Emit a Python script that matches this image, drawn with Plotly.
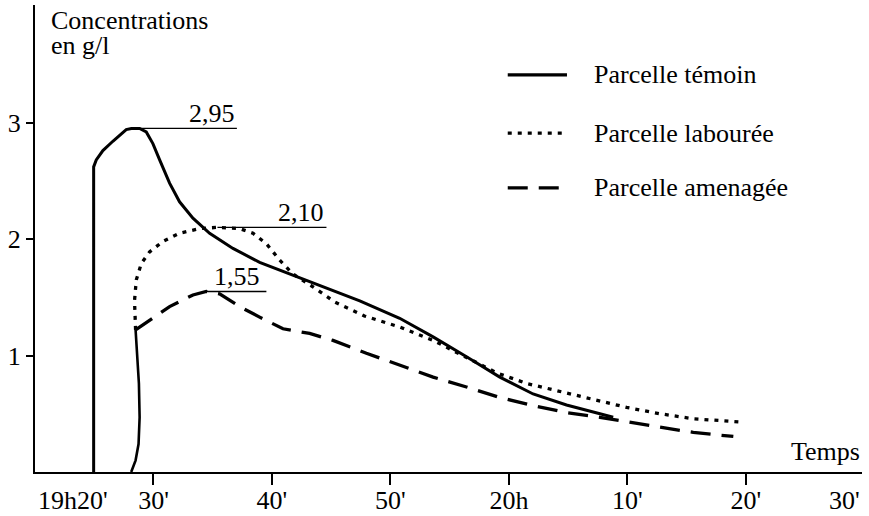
import plotly.graph_objects as go

# time in minutes after 19h20
tick_vals = [10, 20, 30, 40, 50, 60]
tick_text = ["30'", "40'", "50'", "20h", "10'", "20'"]
first_label = "19h20'"
last_label = "30'"

# Parcelle témoin (solid)
temoin_t = [4.95, 4.95, 5.17, 5.73, 6.57, 7.70, 8.13, 8.83, 9.39, 9.95, 10.52, 11.36, 12.2, 13.33,
            14.74, 16.71, 18.96, 21.77, 24.59, 27.41, 30.78, 33.6, 36.42, 39.23, 42.04, 44.86, 47.68, 48.8]
temoin_c = [0.0, 2.62, 2.68, 2.76, 2.84, 2.94, 2.95, 2.95, 2.92, 2.82, 2.68, 2.48, 2.32, 2.18,
            2.05, 1.92, 1.80, 1.69, 1.58, 1.47, 1.32, 1.16, 0.99, 0.815, 0.67, 0.575, 0.50, 0.47]

# Rising limb shared by parcelle labourée and parcelle aménagée (solid)
montee_t = [8.12, 8.49, 8.74, 8.83, 8.77, 8.60, 8.49]
montee_c = [0.0, 0.10, 0.24, 0.47, 0.76, 1.04, 1.22]

# Parcelle labourée (dotted)
laboure_t = [8.49, 8.40, 8.55, 8.97, 9.67, 10.8, 12.2, 13.9, 15.3, 17.27, 18.4, 19.53, 20.65, 21.77,
             23.46, 25.3, 27.8, 30.78, 33.6, 36.13, 39.0, 41.5, 44.3, 47.1, 49.93, 52.75, 55.56, 59.5]
laboure_c = [1.22, 1.47, 1.65, 1.79, 1.89, 1.98, 2.05, 2.09, 2.10, 2.09, 2.05, 1.96, 1.82, 1.70,
             1.59, 1.46, 1.34, 1.245, 1.13, 1.00, 0.85, 0.76, 0.69, 0.62, 0.555, 0.50, 0.457, 0.43]

# Parcelle aménagée (dashed)
amenage_t = [8.49, 11.36, 13.33, 14.46, 15.58, 17.27, 18.96, 20.93, 23.18, 25.15, 27.97, 30.78,
             33.6, 36.42, 39.23, 42.04, 44.86, 47.68, 49.93, 52.75, 55.56, 58.94]
amenage_c = [1.22, 1.42, 1.52, 1.55, 1.53, 1.42, 1.33, 1.23, 1.19, 1.13, 1.02, 0.92,
             0.815, 0.73, 0.64, 0.57, 0.51, 0.47, 0.43, 0.385, 0.34, 0.305]

# peak labels
peak_vals = [2.95, 2.10, 1.55]
peak_text = ["2,95", "2,10", "1,55"]
peak_x0 = [8.1, 15.4, 14.46]
peak_x1 = [17.04, 24.6, 19.53]

legend_names = ["Parcelle témoin", "Parcelle labourée", "Parcelle amenagée"]

FONT = "Liberation Serif"
FS = 26
DOT = "4px,6px"
DASH = "20px,11px"

fig = go.Figure()
fig.add_trace(go.Scatter(x=temoin_t, y=temoin_c, mode="lines", line=dict(color="black", width=3),
                         name=legend_names[0], showlegend=False))
fig.add_trace(go.Scatter(x=montee_t, y=montee_c, mode="lines", line=dict(color="black", width=2.6),
                         showlegend=False))
fig.add_trace(go.Scatter(x=laboure_t, y=laboure_c, mode="lines",
                         line=dict(color="black", width=3.3, dash=DOT), name=legend_names[1], showlegend=False))
fig.add_trace(go.Scatter(x=amenage_t, y=amenage_c, mode="lines",
                         line=dict(color="black", width=3.3, dash=DASH), name=legend_names[2], showlegend=False))

# peak reference lines and labels
for v, t, x0, x1, xs in zip(peak_vals, peak_text, peak_x0, peak_x1, [0, 0, -4]):
    fig.add_shape(type="line", xref="x", yref="y", x0=x0, x1=x1, y0=v, y1=v,
                  line=dict(color="black", width=1.3))
    fig.add_annotation(x=x1, y=v, xref="x", yref="y", text=t, showarrow=False,
                       xanchor="right", yanchor="bottom", xshift=xs, yshift=-2,
                       font=dict(family=FONT, size=FS, color="black"))

# hand-drawn legend
leg_y = [3.41, 2.91, 2.44]
leg_dash = ["solid", DOT, DASH]
for name, ly, d in zip(legend_names, leg_y, leg_dash):
    fig.add_shape(type="line", xref="x", yref="y", x0=39.9, x1=44.9, y0=ly, y1=ly,
                  line=dict(color="black", width=3.3, dash=d))
    fig.add_annotation(x=47.0, y=ly, xref="x", yref="y", text=name, showarrow=False,
                       xanchor="left", yanchor="middle",
                       font=dict(family=FONT, size=FS, color="black"))

# axis titles
fig.add_annotation(x=0, y=3.88, xref="x", yref="y", text="Concentrations", showarrow=False,
                   xanchor="left", yanchor="middle", xshift=14,
                   font=dict(family=FONT, size=FS, color="black"))
fig.add_annotation(x=0, y=3.66, xref="x", yref="y", text="en g/l", showarrow=False,
                   xanchor="left", yanchor="middle", xshift=14,
                   font=dict(family=FONT, size=FS, color="black"))
fig.add_annotation(x=69.8, y=0.18, xref="x", yref="y", text="Temps", showarrow=False,
                   xanchor="right", yanchor="middle",
                   font=dict(family=FONT, size=FS, color="black"))
# end labels of the time axis
fig.add_annotation(x=0, y=-0.062, xref="x", yref="paper", text=first_label, showarrow=False,
                   xanchor="left", yanchor="middle", xshift=1,
                   font=dict(family=FONT, size=FS, color="black"))
fig.add_annotation(x=69.8, y=-0.062, xref="x", yref="paper", text=last_label, showarrow=False,
                   xanchor="right", yanchor="middle",
                   font=dict(family=FONT, size=FS, color="black"))

fig.update_layout(
    width=869, height=516,
    margin=dict(l=35, r=7, t=5, b=44),
    paper_bgcolor="white", plot_bgcolor="white",
    showlegend=False,
    font=dict(family=FONT, size=FS, color="black"),
)
fig.update_xaxes(range=[0, 69.8], tickvals=tick_vals, ticktext=tick_text,
                 showgrid=False, zeroline=False, showline=True, linecolor="black", linewidth=2,
                 ticks="outside", ticklen=11, tickwidth=1.5, tickcolor="black",
                 ticklabelstandoff=-7,
                 tickfont=dict(family=FONT, size=FS, color="black"), automargin=False)
fig.update_yaxes(range=[0, 4.01], tickvals=[1, 2, 3], ticktext=["1", "2", "3"],
                 showgrid=False, zeroline=False, showline=True, linecolor="black", linewidth=2,
                 ticks="outside", ticklen=7, tickwidth=1.5, tickcolor="black",
                 tickfont=dict(family=FONT, size=FS, color="black"), automargin=False)

fig.write_html("out.html", config={"displayModeBar": False},
               post_script="document.body.style.margin='0';document.body.style.overflow='hidden';")
